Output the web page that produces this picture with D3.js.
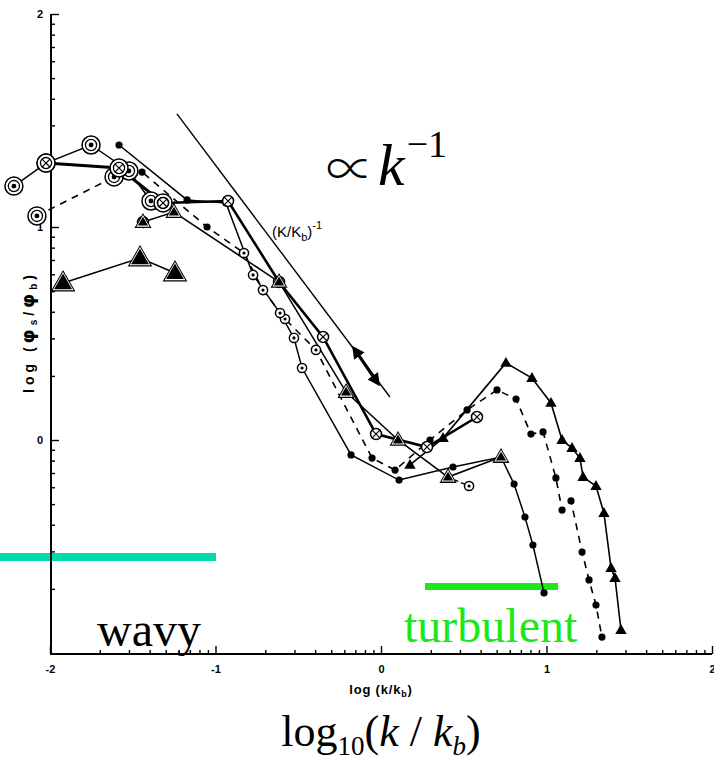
<!DOCTYPE html>
<html>
<head>
<meta charset="utf-8">
<script src="https://cdn.jsdelivr.net/npm/d3@7/dist/d3.min.js"></script>
<style>
  html, body { margin: 0; padding: 0; background: #fff; }
  svg { display: block; }
</style>
</head>
<body>
<svg id="chart" width="714" height="760"></svg>
<script>
// ---- data (log10 k/kb , log10 phi_s/phi_b) ----
const xMajorTicks = [-2, -1, 0, 1, 2];
const yMajorTicks = [0, 1, 2];
const xTickLabels = ["-2", "-1", "0", "1", "2"];
const yTickLabels = ["0", "1", "2"];

// wavy runs
const ringedThin = [[-2.218, 1.192], [-2.024, 1.300], [-1.752, 1.385], [-1.523, 1.263], [-1.390, 1.122]];
const crossedThickA = [[-2.024, 1.300], [-1.583, 1.277], [-1.317, 1.113]];
const crossedThickB = [[-1.317, 1.113], [-0.924, 1.122], [-0.616, 0.742], [-0.350, 0.484], [-0.030, 0.028], [0.278, -0.033], [0.580, 0.108]];
const bigTriangles = [[-1.921, 0.737], [-1.456, 0.854], [-1.245, 0.784]];

// runs reaching the turbulent peak
const solidDots = [[-1.583, 1.385], [-1.172, 1.127], [-0.937, 1.113], [-0.773, 0.775], [-0.610, 0.596], [-0.526, 0.479],
  [-0.477, 0.338], [-0.181, -0.070], [0.109, -0.188], [0.435, -0.127], [0.725, -0.080], [0.804, -0.207],
  [0.870, -0.362], [0.918, -0.493], [0.985, -0.718]];
const dashedDots = [[-2.079, 1.052], [-1.613, 1.235], [-1.444, 1.258], [-1.051, 1.000], [-0.828, 0.878], [-0.713, 0.704],
  [-0.580, 0.568], [-0.393, 0.423], [-0.054, -0.085], [0.085, -0.141], [0.296, 0.000], [0.520, 0.141],
  [0.701, 0.235], [0.816, 0.192], [0.906, 0.028], [0.979, 0.038], [1.057, -0.178], [1.094, -0.329],
  [1.148, -0.286], [1.215, -0.526], [1.257, -0.657], [1.299, -0.775], [1.335, -0.925]];
const midTriangles = [[-1.438, 1.023], [-1.251, 1.070], [-0.616, 0.742], [-0.211, 0.225], [0.103, 0.000], [0.405, -0.174], [0.725, -0.080]];
const smallTriangles = [[0.175, -0.117], [0.375, 0.009], [0.755, 0.362], [0.912, 0.291], [1.027, 0.174], [1.094, 0.000],
  [1.154, -0.038], [1.202, -0.085], [1.221, -0.174], [1.299, -0.216], [1.347, -0.343], [1.390, -0.601],
  [1.414, -0.648], [1.450, -0.892]];
const dashedTail = [[0.405, -0.174], [0.532, -0.216]];

// extra symbols sitting on the runs above
const bigRingMarks = [[-2.079, 1.052], [-1.613, 1.235]];
const smallRingMarks = [[-0.828, 0.878], [-0.713, 0.704], [-0.580, 0.568], [-0.773, 0.775], [-0.610, 0.596],
  [-0.526, 0.479], [-0.477, 0.338], [-0.393, 0.423], [0.532, -0.216]];
const smallCrossMarks = [[-1.438, 1.023]];

// k^-1 reference slope and its marker arrow
const refSlope = [[-1.233, 1.531], [0.054, 0.202]];
const slopeArrow = [[-0.157, 0.423], [-0.024, 0.272]];

// ---- scales ----
const svg = d3.select("#chart");
const x = d3.scaleLinear().domain([-2, 2]).range([50, 712]);
const y = d3.scaleLinear().domain([-1, 2]).range([653, 14]);
const line = d3.line().x(d => x(d[0])).y(d => y(d[1]));

// ---- highlight bars ----
svg.append("rect").attr("x", 0).attr("y", 553).attr("width", 216).attr("height", 8).attr("fill", "#00dcaa");
svg.append("rect").attr("x", 425).attr("y", 583).attr("width", 133).attr("height", 7).attr("fill", "#1ae81a");

// ---- axes ----
const minorX = [], minorY = [];
for (let k = -2; k < 2; k++) for (let n = 2; n <= 9; n++) minorX.push(k + Math.log10(n));
for (let k = -1; k < 2; k++) for (let n = 2; n <= 9; n++) minorY.push(k + Math.log10(n));

const axisFont = "bold 11px 'Liberation Sans', Arial, sans-serif";

const gx = svg.append("g").attr("transform", `translate(0,${y(-1) + 1})`);
gx.call(d3.axisBottom(x).tickValues(xMajorTicks).tickSize(-8).tickPadding(11)
  .tickFormat((d, i) => xTickLabels[i]));
gx.append("g").call(d3.axisBottom(x).tickValues(minorX).tickSize(-4).tickFormat(""));
gx.selectAll(".domain").attr("stroke-width", 2).attr("d", `M${x(-2)},0H${x(2)}`);
gx.selectAll("line").attr("stroke-width", 1.4);
gx.selectAll("text").style("font", axisFont).attr("fill", "#000");
// last label sits against the right edge
gx.selectAll(".tick text").filter(d => d === 2).attr("text-anchor", "end").attr("dx", 3);

const gy = svg.append("g").attr("transform", `translate(${x(-2) + 1},0)`);
gy.call(d3.axisLeft(y).tickValues(yMajorTicks).tickSize(-8).tickPadding(8)
  .tickFormat((d, i) => yTickLabels[i]));
gy.append("g").call(d3.axisLeft(y).tickValues(minorY).tickSize(-4).tickFormat(""));
gy.selectAll(".domain").attr("stroke-width", 2).attr("d", `M0,${y(2)}V${y(-1) + 1}`);
gy.selectAll("line").attr("stroke-width", 1.4);
gy.selectAll("text").style("font", axisFont).attr("fill", "#000");

// axis titles
svg.append("text").attr("x", 381).attr("y", 694).attr("text-anchor", "middle")
  .style("font", "bold 13px 'Liberation Sans', Arial, sans-serif").style("letter-spacing", "0.8px")
  .call(t => {
    t.append("tspan").text("log (k/k");
    t.append("tspan").attr("font-size", 9).attr("dy", 3).text("b");
    t.append("tspan").attr("dy", -3).text(")");
  });

svg.append("text").attr("transform", "translate(34,332) rotate(-90)").attr("text-anchor", "middle")
  .style("font", "bold 14px 'Liberation Sans', Arial, sans-serif").style("letter-spacing", "4px")
  .call(t => {
    t.append("tspan").text("log (");
    t.append("tspan").attr("font-family", "'DejaVu Sans', sans-serif").attr("font-size", 18).text("φ");
    t.append("tspan").attr("font-size", 10).attr("dy", 3).text("s");
    t.append("tspan").attr("dy", -3).text("/");
    t.append("tspan").attr("font-family", "'DejaVu Sans', sans-serif").attr("font-size", 18).text("φ");
    t.append("tspan").attr("font-size", 10).attr("dy", 3).text("b");
    t.append("tspan").attr("dy", -3).text(")");
  });

// ---- reference slope ----
svg.append("path").attr("d", line(refSlope)).attr("fill", "none").attr("stroke", "#000").attr("stroke-width", 1.4);

const defs = svg.append("defs");
defs.append("marker").attr("id", "head").attr("viewBox", "0 0 10 10").attr("refX", 6).attr("refY", 5)
  .attr("markerWidth", 4).attr("markerHeight", 4).attr("orient", "auto-start-reverse")
  .append("path").attr("d", "M0,0L10,5L0,10z").attr("fill", "#000");
svg.append("path").attr("d", line(slopeArrow)).attr("fill", "none").attr("stroke", "#000")
  .attr("stroke-width", 3.2).attr("marker-start", "url(#head)").attr("marker-end", "url(#head)");

svg.append("text").attr("x", 272).attr("y", 237)
  .style("font", "15px 'Liberation Sans', Arial, sans-serif")
  .call(t => {
    t.append("tspan").text("(K/K");
    t.append("tspan").attr("font-size", 11).attr("dy", 4).text("b");
    t.append("tspan").attr("dy", -4).text(")");
    t.append("tspan").attr("font-size", 11).attr("dy", -8).text("-1");
  });

// ---- connecting lines ----
const runs = [
  { data: ringedThin, w: 1.5, dash: null },
  { data: crossedThickA, w: 3, dash: null },
  { data: crossedThickB, w: 2.6, dash: null },
  { data: bigTriangles, w: 1.6, dash: null },
  { data: solidDots, w: 1.5, dash: null },
  { data: dashedDots, w: 1.6, dash: "7,6" },
  { data: midTriangles, w: 1.6, dash: null },
  { data: smallTriangles, w: 1.6, dash: null },
  { data: dashedTail, w: 1.4, dash: "4,3" }
];
svg.append("g").selectAll("path").data(runs).join("path")
  .attr("d", r => line(r.data)).attr("fill", "none").attr("stroke", "#000")
  .attr("stroke-width", r => r.w).attr("stroke-dasharray", r => r.dash);

// ---- symbols ----
function dots(data, r) {
  svg.append("g").selectAll("circle").data(data).join("circle")
    .attr("cx", d => x(d[0])).attr("cy", d => y(d[1])).attr("r", r).attr("fill", "#000");
}
function rings(data, r, inner) {
  const g = svg.append("g").selectAll("g").data(data).join("g")
    .attr("transform", d => `translate(${x(d[0])},${y(d[1])})`);
  g.append("circle").attr("r", r).attr("fill", "#fff").attr("stroke", "#000").attr("stroke-width", 1.5);
  if (inner) g.append("circle").attr("r", r * 0.62).attr("fill", "#fff").attr("stroke", "#000").attr("stroke-width", 1.3);
  g.append("circle").attr("r", Math.max(1.6, r * 0.27)).attr("fill", "#000");
}
function crossRings(data, r, inner) {
  const g = svg.append("g").selectAll("g").data(data).join("g")
    .attr("transform", d => `translate(${x(d[0])},${y(d[1])})`);
  g.append("circle").attr("r", r).attr("fill", "#fff").attr("stroke", "#000").attr("stroke-width", 1.5);
  const c = inner ? r * 0.62 : r;
  if (inner) g.append("circle").attr("r", c).attr("fill", "#fff").attr("stroke", "#000").attr("stroke-width", 1.3);
  const a = c * 0.7;
  g.append("path").attr("d", `M${-a},${-a}L${a},${a}M${-a},${a}L${a},${-a}`).attr("stroke", "#000").attr("stroke-width", 1.2);
}
function triangles(data, s, outlined) {
  const tri = k => `M0,${-k}L${k * 0.95},${k * 0.65}L${-k * 0.95},${k * 0.65}Z`;
  const g = svg.append("g").selectAll("g").data(data).join("g")
    .attr("transform", d => `translate(${x(d[0])},${y(d[1])})`);
  if (outlined) {
    g.append("path").attr("d", tri(s)).attr("fill", "#000");
    g.append("path").attr("d", tri(s - 2)).attr("fill", "#fff");
    g.append("path").attr("d", tri(s - 3.6)).attr("fill", "#000");
  } else {
    g.append("path").attr("d", tri(s)).attr("fill", "#000");
  }
}

dots(solidDots, 3.6);
dots(dashedDots, 3.6);
rings(ringedThin, 9, true);
rings(bigRingMarks, 9, true);
crossRings(crossedThickA, 9, true);
crossRings(crossedThickB, 5.5, false);
crossRings(smallCrossMarks, 5.5, false);
rings(smallRingMarks, 4.6, false);
triangles(bigTriangles, 13, true);
triangles(midTriangles, 9, true);
triangles(smallTriangles, 6, false);

// ---- annotations ----
svg.append("text").attr("x", 326).attr("y", 185)
  .style("font-family", "'Liberation Serif', 'DejaVu Serif', serif").attr("font-size", 60)
  .call(t => {
    t.append("tspan").attr("font-family", "'Noto Sans CJK JP', 'DejaVu Serif', serif").attr("font-weight", 300)
      .attr("font-size", 48).attr("dy", 1).text("∝");
    t.append("tspan").attr("font-style", "italic").attr("dx", 4).attr("dy", -1).text("k");
    t.append("tspan").attr("font-size", 38).attr("dy", -28).attr("dx", 2).text("−1");
  });

svg.append("text").attr("x", 97).attr("y", 646)
  .style("font-family", "'Liberation Serif', serif").attr("font-size", 48).attr("fill", "#000").text("wavy");
svg.append("text").attr("x", 404).attr("y", 642)
  .style("font-family", "'Liberation Serif', serif").attr("font-size", 48).attr("fill", "#1ae81a").text("turbulent");

svg.append("text").attr("x", 381).attr("y", 746).attr("text-anchor", "middle")
  .style("font-family", "'Liberation Serif', serif").attr("font-size", 44)
  .call(t => {
    t.append("tspan").text("log");
    t.append("tspan").attr("font-size", 27).attr("dy", 9).text("10");
    t.append("tspan").attr("dy", -9).text("(");
    t.append("tspan").attr("font-style", "italic").text("k");
    t.append("tspan").text(" / ");
    t.append("tspan").attr("font-style", "italic").text("k");
    t.append("tspan").attr("font-style", "italic").attr("font-size", 27).attr("dy", 9).text("b");
    t.append("tspan").attr("dy", -9).text(")");
  });
</script>
</body>
</html>
